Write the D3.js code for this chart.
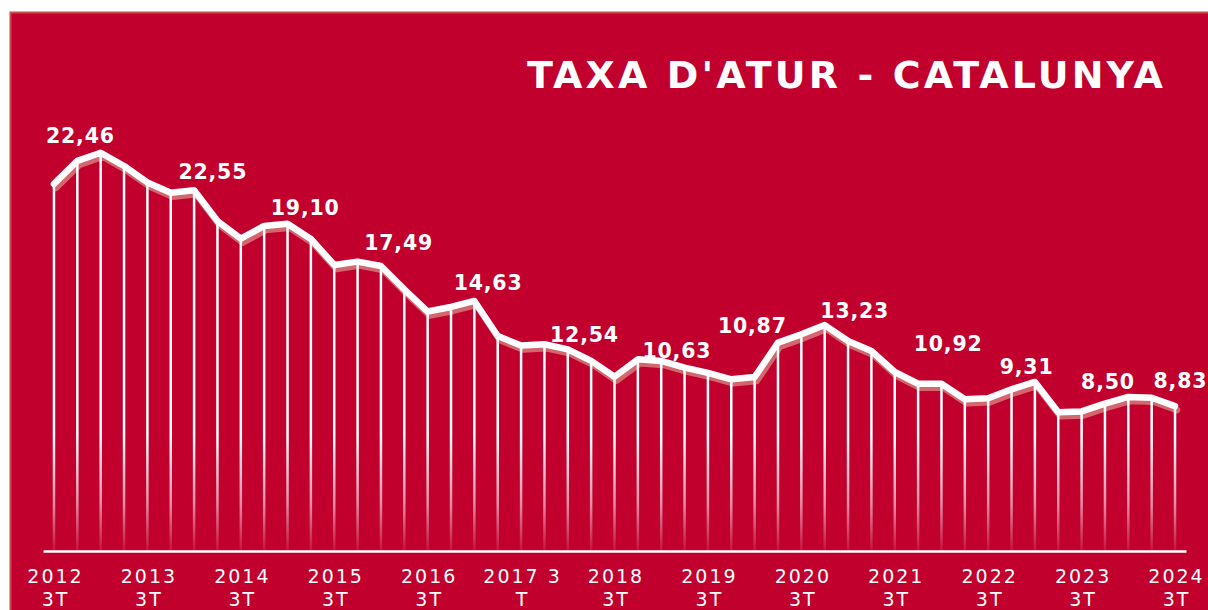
<!DOCTYPE html>
<html><head><meta charset="utf-8">
<script src="https://cdn.jsdelivr.net/npm/d3@7"></script>
<style>html,body{margin:0;padding:0;background:#fff;} svg{display:block;}</style>
</head><body><svg id="chart" width="1208" height="610"></svg>
<script>
// ---------- DATA ----------
const quarters = [
  "2012 3T","2012 4T","2013 1T","2013 2T","2013 3T","2013 4T","2014 1T","2014 2T",
  "2014 3T","2014 4T","2015 1T","2015 2T","2015 3T","2015 4T","2016 1T","2016 2T",
  "2016 3T","2016 4T","2017 1T","2017 2T","2017 3T","2017 4T","2018 1T","2018 2T",
  "2018 3T","2018 4T","2019 1T","2019 2T","2019 3T","2019 4T","2020 1T","2020 2T",
  "2020 3T","2020 4T","2021 1T","2021 2T","2021 3T","2021 4T","2022 1T","2022 2T",
  "2022 3T","2022 4T","2023 1T","2023 2T","2023 3T","2023 4T","2024 1T","2024 2T",
  "2024 3T"
];
const unemployment = [
  22.46, 23.87, 24.37, 23.56, 22.55, 21.92, 22.07, 20.18,
  19.10, 19.88, 20.02, 19.08, 17.49, 17.69, 17.42, 15.99,
  14.63, 14.91, 15.28, 13.13, 12.54, 12.62, 12.31, 11.60,
  10.63, 11.70, 11.60, 11.19, 10.87, 10.47, 10.61, 12.72,
  13.23, 13.80, 12.82, 12.21, 10.92, 10.20, 10.20, 9.25,
  9.31, 9.86, 10.31, 8.45, 8.50, 8.98, 9.39, 9.34,
  8.83
];
const tickQuarters = ["2012 3T","2013 3T","2014 3T","2015 3T","2016 3T","2017 3T","2018 3T",
  "2019 3T","2020 3T","2021 3T","2022 3T","2023 3T","2024 3T"];
const tickLines = [
  ["2012","3T"],["2013","3T"],["2014","3T"],["2015","3T"],["2016","3T"],["2017 3","T"],
  ["2018","3T"],["2019","3T"],["2020","3T"],["2021","3T"],["2022","3T"],["2023","3T"],["2024","3T"]
];
const labelQuarters = tickQuarters;
const labelTexts = ["22,46","22,55","19,10","17,49","14,63","12,54","10,63","10,87",
  "13,23","10,92","9,31","8,50","8,83"];
const title = "TAXA D'ATUR - CATALUNYA";

// ---------- LAYOUT / STYLE ----------
const W = 1208, H = 610;
const BG = "#C1002D";
// manual label nudges (dx, dy) relative to the labelled point
const labelNudge = [[26,-41],[65,-3],[64,-24],[64,-15],[60,-22],[63,-4],[62,-19],
  [44,-40],[53,-16],[53,-21],[38,-24],[26,-22],[5,-18]];

const svg = d3.select("#chart");

// panel
svg.append("rect").attr("x",10).attr("y",12).attr("width",W-10).attr("height",H-12).attr("fill",BG);
svg.append("path").attr("d","M10.5,610V12.5H1208").attr("fill","none").attr("stroke","#C24F4A").attr("stroke-width",2);

const x = d3.scalePoint().domain(quarters).range([43,1186]).padding(0.47);
const y = d3.scaleLinear().domain([0,25]).range([550,142.5]);

const data = quarters.map((q,i)=>({q, v: unemployment[i]}));

// gradient for drop lines
const defs = svg.append("defs");
const grad = defs.append("linearGradient").attr("id","dropGrad")
  .attr("gradientUnits","userSpaceOnUse").attr("x1",0).attr("x2",0)
  .attr("y1",y(7)).attr("y2",y(0));
grad.append("stop").attr("offset","0").attr("stop-color","#fff").attr("stop-opacity",1);
grad.append("stop").attr("offset","0.6").attr("stop-color","#fff").attr("stop-opacity",0.55);
grad.append("stop").attr("offset","1").attr("stop-color","#fff").attr("stop-opacity",0.08);

// title
svg.append("text").attr("x",527).attr("y",88)
  .attr("textLength",636).attr("lengthAdjust","spacing")
  .attr("font-family","'DejaVu Sans', Verdana, sans-serif").attr("font-weight","bold")
  .attr("font-size",38).attr("fill","#fff").text(title);

const line = d3.line().x(d=>x(d.q)).y(d=>y(d.v)).curve(d3.curveLinear);

// shadow line
svg.append("path").datum(data).attr("d",line)
  .attr("transform","translate(2,4)")
  .attr("fill","none").attr("stroke","#D4676E").attr("stroke-width",6.5)
  .attr("stroke-linejoin","round").attr("stroke-linecap","round");

// drop lines
svg.append("g").selectAll("line").data(data).join("line")
  .attr("x1",d=>x(d.q)).attr("x2",d=>x(d.q))
  .attr("y1",d=>y(d.v)).attr("y2",y(0))
  .attr("stroke","url(#dropGrad)").attr("stroke-width",2.5);

// main line
svg.append("path").datum(data).attr("d",line)
  .attr("fill","none").attr("stroke","#fff").attr("stroke-width",6.5)
  .attr("stroke-linejoin","round").attr("stroke-linecap","round");

// axis
const axis = d3.axisBottom(x).tickValues(tickQuarters).tickSize(0).tickSizeOuter(0).tickFormat("");
const gx = svg.append("g").attr("transform",`translate(0,${y(0)+1})`).call(axis);
gx.select(".domain").attr("stroke","#fff").attr("stroke-width",2.5);
gx.selectAll(".tick text").remove();
gx.selectAll(".tick").each(function(q){
  const i = tickQuarters.indexOf(q);
  const t = d3.select(this).append("text")
    .attr("fill","#fff").attr("text-anchor","middle")
    .attr("font-family","'DejaVu Sans', Verdana, sans-serif").attr("font-size",19)
    .attr("letter-spacing",2).attr("dx",1);
  tickLines[i].forEach((s,k)=>{
    t.append("tspan").attr("x",0).attr("dx",1).attr("y",k===0?32:55).text(s);
  });
});

// value labels
svg.append("g").selectAll("text").data(labelQuarters).join("text")
  .attr("x",(q,i)=>x(q)+labelNudge[i][0])
  .attr("y",(q,i)=>y(unemployment[quarters.indexOf(q)])+labelNudge[i][1])
  .attr("text-anchor","middle").attr("dx",0.4)
  .attr("font-family","'DejaVu Sans', Verdana, sans-serif").attr("font-weight","bold")
  .attr("font-size",20.5).attr("letter-spacing",0.8).attr("fill","#fff")
  .text((q,i)=>labelTexts[i]);
</script>
</body></html>
